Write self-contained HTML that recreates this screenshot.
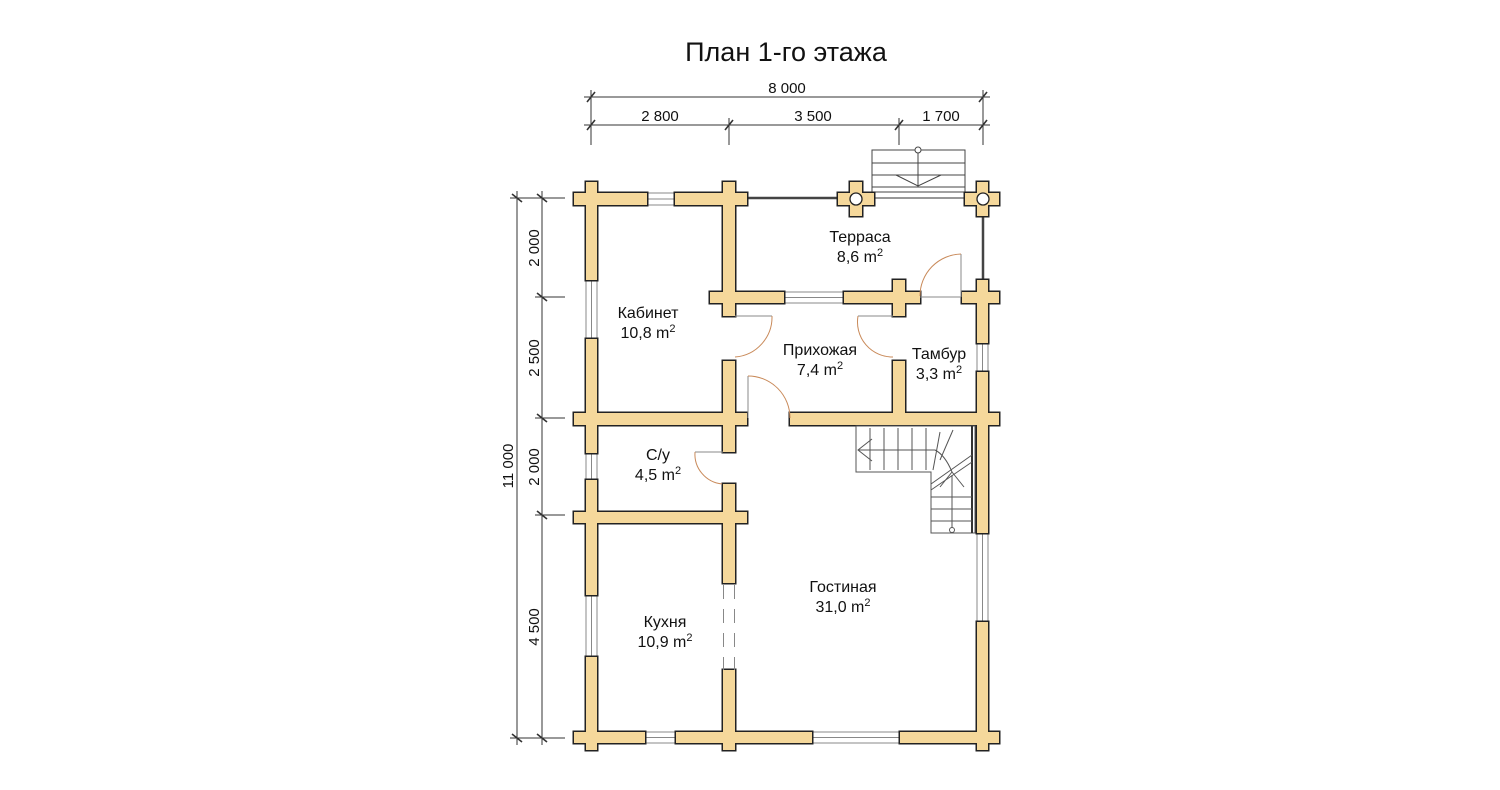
<!DOCTYPE html>
<html><head><meta charset="utf-8"><style>
html,body{margin:0;padding:0;background:#fff;}
svg{display:block;font-family:"Liberation Sans",sans-serif;}
</style></head><body>
<svg width="1500" height="790" viewBox="0 0 1500 790" xmlns="http://www.w3.org/2000/svg">
<rect width="1500" height="790" fill="#fff"/>
<text x="786" y="61" font-size="27" text-anchor="middle" fill="#111">План 1-го этажа</text>

<g stroke="#333" stroke-width="1" fill="none">
<line x1="584" y1="97" x2="990" y2="97"/>
<line x1="584" y1="125" x2="990" y2="125"/>
<line x1="591" y1="90" x2="591" y2="145"/>
<line x1="983" y1="90" x2="983" y2="145"/>
<line x1="729" y1="118" x2="729" y2="145"/>
<line x1="899" y1="118" x2="899" y2="145"/>
<g stroke-width="1.6">
<line x1="587" y1="102" x2="595" y2="92"/><line x1="979" y1="102" x2="987" y2="92"/>
<line x1="587" y1="130" x2="595" y2="120"/><line x1="979" y1="130" x2="987" y2="120"/>
<line x1="725" y1="130" x2="733" y2="120"/><line x1="895" y1="130" x2="903" y2="120"/>
</g>
<line x1="517" y1="191" x2="517" y2="745"/>
<line x1="542" y1="191" x2="542" y2="745"/>
<line x1="510" y1="198" x2="565" y2="198"/>
<line x1="510" y1="738" x2="565" y2="738"/>
<line x1="535" y1="297" x2="565" y2="297"/>
<line x1="535" y1="418" x2="565" y2="418"/>
<line x1="535" y1="515" x2="565" y2="515"/>
<g stroke-width="1.6">
<line x1="512" y1="194" x2="522" y2="202"/><line x1="512" y1="734" x2="522" y2="742"/>
<line x1="537" y1="194" x2="547" y2="202"/><line x1="537" y1="734" x2="547" y2="742"/>
<line x1="537" y1="293" x2="547" y2="301"/><line x1="537" y1="414" x2="547" y2="422"/>
<line x1="537" y1="511" x2="547" y2="519"/>
</g>
</g>
<g font-size="15" fill="#111" text-anchor="middle">
<text x="787" y="93">8 000</text>
<text x="660" y="121">2 800</text>
<text x="813" y="121">3 500</text>
<text x="941" y="121">1 700</text>
<text transform="translate(513,466) rotate(-90)">11 000</text>
<text transform="translate(539,248) rotate(-90)">2 000</text>
<text transform="translate(539,358) rotate(-90)">2 500</text>
<text transform="translate(539,467) rotate(-90)">2 000</text>
<text transform="translate(539,627) rotate(-90)">4 500</text>
</g>

<g stroke="#444" stroke-width="1" fill="none">
<rect x="872" y="150" width="93" height="42" fill="#fff"/>
<line x1="872" y1="163" x2="965" y2="163"/>
<line x1="872" y1="175" x2="965" y2="175"/>
<line x1="872" y1="187" x2="965" y2="187"/>
<line x1="918" y1="150" x2="918" y2="187"/>
<polyline points="896,175 918,186 941,175"/>
<circle cx="918" cy="150" r="3" fill="#fff"/>
</g>
<line x1="747" y1="198" x2="840" y2="198" stroke="#444" stroke-width="2.5"/>
<line x1="872" y1="198" x2="967" y2="198" stroke="#777" stroke-width="1.5"/>
<line x1="983" y1="214" x2="983" y2="282" stroke="#444" stroke-width="2.5"/>

<g fill="#fff" stroke="#888" stroke-width="1">
<rect x="647" y="193" width="28" height="12"/><line x1="647" y1="199" x2="675" y2="199"/>
<rect x="784" y="292" width="60" height="11"/><line x1="784" y1="297.5" x2="844" y2="297.5"/>
<rect x="645" y="732" width="31" height="11"/><line x1="645" y1="737.5" x2="676" y2="737.5"/>
<rect x="812" y="732" width="88" height="11"/><line x1="812" y1="737.5" x2="900" y2="737.5"/>
<rect x="586" y="280" width="11" height="59"/><line x1="591.5" y1="280" x2="591.5" y2="339"/>
<rect x="586" y="453" width="11" height="27"/><line x1="591.5" y1="453" x2="591.5" y2="480"/>
<rect x="586" y="595" width="11" height="62"/><line x1="591.5" y1="595" x2="591.5" y2="657"/>
<rect x="977" y="343" width="11" height="29"/><line x1="982.5" y1="343" x2="982.5" y2="372"/>
<rect x="977" y="533" width="11" height="89"/><line x1="982.5" y1="533" x2="982.5" y2="622"/>
</g>

<defs>
<g id="w">
<rect x="574" y="193" width="73" height="12"/>
<rect x="675" y="193" width="72" height="12"/>
<rect x="710" y="292" width="74" height="11"/>
<rect x="844" y="292" width="76" height="11"/>
<rect x="962" y="292" width="37" height="11"/>
<rect x="574" y="413" width="173" height="12"/>
<rect x="790" y="413" width="209" height="12"/>
<rect x="574" y="512" width="173" height="11"/>
<rect x="574" y="732" width="71" height="11"/>
<rect x="676" y="732" width="136" height="11"/>
<rect x="900" y="732" width="99" height="11"/>
<rect x="586" y="182" width="11" height="98"/>
<rect x="586" y="339" width="11" height="114"/>
<rect x="586" y="480" width="11" height="115"/>
<rect x="586" y="657" width="11" height="93"/>
<rect x="723" y="182" width="12" height="134"/>
<rect x="723" y="361" width="12" height="91"/>
<rect x="723" y="484" width="12" height="99"/>
<rect x="723" y="670" width="12" height="80"/>
<rect x="893" y="280" width="12" height="36"/>
<rect x="893" y="361" width="12" height="64"/>
<rect x="977" y="280" width="11" height="63"/>
<rect x="977" y="372" width="11" height="161"/>
<rect x="977" y="622" width="11" height="128"/>
<rect x="977" y="182" width="11" height="34"/>
<rect x="965" y="193" width="34" height="12"/>
<rect x="850" y="182" width="12" height="34"/>
<rect x="838" y="193" width="36" height="12"/>
</g>
</defs>
<use href="#w" fill="#222" stroke="#222" stroke-width="3"/>
<use href="#w" fill="#F5D89B" stroke="none"/>
<g fill="#fff" stroke="#222" stroke-width="1.3">
<circle cx="856" cy="199" r="6"/><circle cx="983" cy="199" r="6"/>
</g>

<g stroke="#888" stroke-width="1" stroke-dasharray="14,10">
<line x1="723.5" y1="585" x2="723.5" y2="670"/>
<line x1="734.5" y1="585" x2="734.5" y2="670"/>
</g>

<g fill="none">
<g stroke="#888" stroke-width="1">
<line x1="735" y1="316" x2="772" y2="316"/>
<line x1="858" y1="316" x2="893" y2="316"/>
<line x1="748" y1="376" x2="748" y2="418"/>
<line x1="961" y1="254" x2="961" y2="297"/>
<line x1="920" y1="297" x2="961" y2="297"/>
<line x1="695" y1="452" x2="723" y2="452"/>
</g>
<g stroke="#C98A5A" stroke-width="1">
<path d="M772,316 A40,40 0 0 1 735,357"/>
<path d="M858,316 A35,35 0 0 0 893,357"/>
<path d="M748,376 A42,42 0 0 1 790,418"/>
<path d="M961,254 A42,42 0 0 0 920,296"/>
<path d="M695,452 A30,30 0 0 0 722,484"/>
</g>
</g>

<g stroke="#555" stroke-width="1" fill="none">
<path d="M856,426 H975 V533 H931 V472 H856 Z" fill="#fff"/>
<line x1="972" y1="426" x2="972" y2="533" stroke="#333" stroke-width="2"/>
<line x1="870" y1="428" x2="870" y2="470"/>
<line x1="884" y1="428" x2="884" y2="470"/>
<line x1="898" y1="428" x2="898" y2="470"/>
<line x1="912" y1="428" x2="912" y2="470"/>
<line x1="926" y1="428" x2="926" y2="470"/>
<line x1="940" y1="432" x2="933" y2="470"/>
<line x1="953" y1="430" x2="940" y2="460"/>
<line x1="972" y1="455" x2="931" y2="484"/>
<line x1="972" y1="462" x2="931" y2="490"/>
<line x1="931" y1="497" x2="972" y2="497"/>
<line x1="931" y1="509" x2="972" y2="509"/>
<line x1="931" y1="521" x2="972" y2="521"/>
<path d="M952,530 V475 M940,487 L952,472 L964,487"/>
<path d="M858,450 H935 Q945,455 952,472 M872,439 L858,450 L872,461"/>
<circle cx="952" cy="530" r="2.5" fill="#fff"/>
</g>

<g font-size="16" fill="#111" text-anchor="middle">
<text x="860" y="242">Терраса</text>
<text x="860" y="262">8,6 m<tspan font-size="11" dy="-6">2</tspan></text>
<text x="648" y="318">Кабинет</text>
<text x="648" y="338">10,8 m<tspan font-size="11" dy="-6">2</tspan></text>
<text x="820" y="355">Прихожая</text>
<text x="820" y="375">7,4 m<tspan font-size="11" dy="-6">2</tspan></text>
<text x="939" y="359">Тамбур</text>
<text x="939" y="379">3,3 m<tspan font-size="11" dy="-6">2</tspan></text>
<text x="658" y="460">С/у</text>
<text x="658" y="480">4,5 m<tspan font-size="11" dy="-6">2</tspan></text>
<text x="843" y="592">Гостиная</text>
<text x="843" y="612">31,0 m<tspan font-size="11" dy="-6">2</tspan></text>
<text x="665" y="627">Кухня</text>
<text x="665" y="647">10,9 m<tspan font-size="11" dy="-6">2</tspan></text>
</g>
</svg>
</body></html>
